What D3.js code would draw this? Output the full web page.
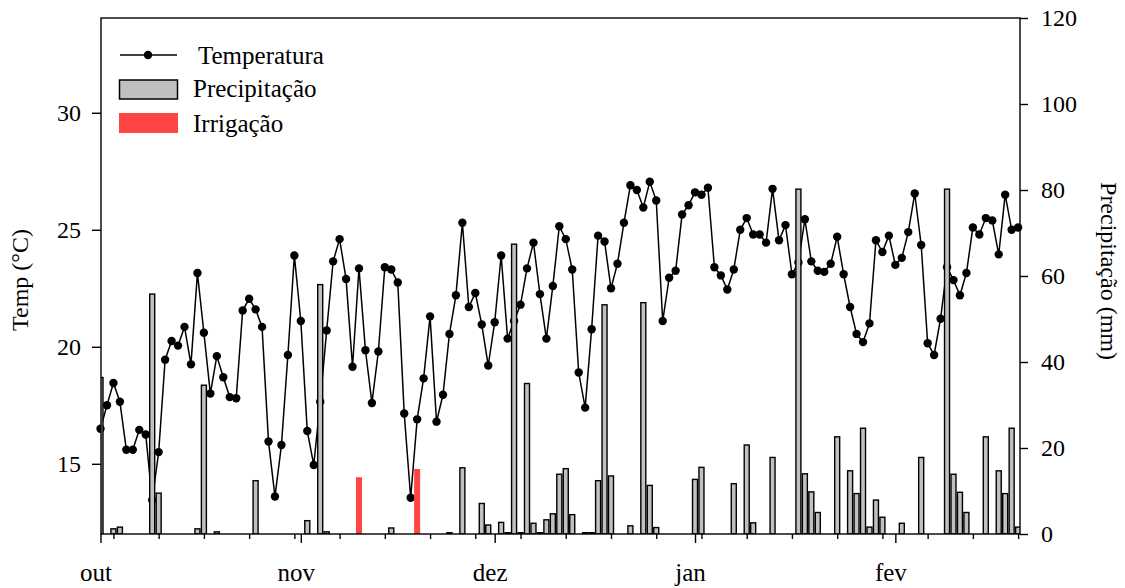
<!DOCTYPE html>
<html>
<head>
<meta charset="utf-8">
<script src="https://cdn.jsdelivr.net/npm/d3@7"></script>
<style>
  body { margin: 0; background: #fff; }
  text { font-family: "Liberation Serif", "Times New Roman", serif; fill: #000; }
</style>
</head>
<body>
<script>
// daily series, starting 1 Oct
var startDate = new Date(2018, 9, 1);

var temperatura = [
  16.5, 17.5, 18.45, 17.65, 15.6, 15.6, 16.45, 16.25, 13.45, 15.5,
  19.45, 20.25, 20.05, 20.85, 19.25, 23.15, 20.6, 18.0, 19.6, 18.7,
  17.85, 17.8, 21.55, 22.05, 21.6, 20.85, 15.95, 13.6, 15.8, 19.65,
  23.9, 21.1, 16.4, 14.95, 17.65, 20.7, 23.65, 24.6, 22.9, 19.15,
  23.35, 19.85, 17.6, 19.8, 23.4, 23.3, 22.75, 17.15, 13.55, 16.9,
  18.65, 21.3, 16.8, 17.95, 20.55, 22.2, 25.3, 21.7, 22.3, 20.95,
  19.2, 21.05, 23.9, 20.35, 21.1, 21.8, 23.35, 24.45, 22.25, 20.35,
  22.6, 25.15, 24.6, 23.3, 18.9, 17.4, 20.75, 24.75, 24.5, 22.5,
  23.55, 25.3, 26.9, 26.7, 25.95, 27.05, 26.25, 21.1, 22.95, 23.25,
  25.65, 26.05, 26.6, 26.5, 26.8, 23.4, 23.05, 22.45, 23.3, 25.0,
  25.5, 24.8, 24.8, 24.45, 26.75, 24.55, 25.2, 23.1, 23.6, 25.45,
  23.65, 23.25, 23.2, 23.55, 24.7, 23.1, 21.7, 20.55, 20.2, 21.0,
  24.55, 24.05, 24.75, 23.5, 23.8, 24.9, 26.55, 24.35, 20.15, 19.65,
  21.2, 23.4, 22.85, 22.2, 23.15, 25.1, 24.8, 25.5, 25.4, 23.95,
  26.5, 25.0, 25.1
];

var precipitacao = [
  36.4, 0, 1.2, 1.6, 0, 0, 0, 0, 55.8, 9.5,
  0, 0, 0, 0, 0, 1.2, 34.6, 0, 0.5, 0,
  0, 0, 0, 0, 12.4, 0, 0, 0, 0, 0,
  0, 0, 3.1, 0, 58, 0.5, 0, 0, 0, 0,
  0, 0, 0, 0, 0, 1.4, 0, 0, 0, 0,
  0, 0, 0, 0, 0.3, 0, 15.4, 0, 0, 7.1,
  2.1, 0, 2.7, 0.3, 67.4, 0.3, 35, 2.5, 0.3, 3.3,
  4.7, 13.9, 15.2, 4.5, 0, 0.3, 0.3, 12.4, 53.3, 13.5,
  0, 0, 1.9, 0, 53.8, 11.3, 1.5, 0, 0, 0,
  0, 0, 12.7, 15.5, 0, 0, 0, 0, 11.7, 0,
  20.7, 2.6, 0, 0, 17.8, 0, 0, 0, 80.2, 14,
  9.8, 5, 0, 0, 22.6, 0, 14.7, 9.4, 24.6, 1.6,
  7.9, 3.9, 0, 0, 2.5, 0, 0, 17.8, 0, 0,
  0, 80.2, 13.9, 9.7, 5, 0, 0, 22.6, 0, 14.7,
  9.4, 24.6, 1.6
];

var irrigDias = [40, 49];
var irrigMm = [13.2, 15.1];

var meses = ["out", "nov", "dez", "jan", "fev"];
var tempTicks = [15, 20, 25, 30];
var precTicks = [0, 20, 40, 60, 80, 100, 120];

var width = 1125, height = 588;
var pL = 101, pR = 1020, pT = 18, pB = 534;

var day = function (i) { return d3.timeDay.offset(startDate, i); };
var lastDay = day(temperatura.length - 1);

var x = d3.scaleTime()
    .domain([startDate, d3.timeHour.offset(lastDay, 7)])
    .range([100.5, pR]);
var yT = d3.scaleLinear().domain([12, 34.05]).range([pB, pT]);
var yP = d3.scaleLinear().domain([0, 120]).range([pB, pT]);

var svg = d3.select("body").append("svg")
    .attr("width", width)
    .attr("height", height);

svg.append("clipPath").attr("id", "plot")
  .append("rect")
    .attr("x", pL).attr("y", pT)
    .attr("width", pR - pL).attr("height", pB - pT);

// temperature line
var line = d3.line()
    .x(function (d, i) { return x(day(i)); })
    .y(function (d) { return yT(d); });

svg.append("path")
    .datum(temperatura)
    .attr("d", line)
    .attr("fill", "none")
    .attr("stroke", "#000")
    .attr("stroke-width", 1.5);

svg.append("g").selectAll("circle")
    .data(temperatura)
  .enter().append("circle")
    .attr("cx", function (d, i) { return x(day(i)); })
    .attr("cy", function (d) { return yT(d); })
    .attr("r", 4.2)
    .attr("fill", "#000");

// precipitation bars
var barW = 5;
var prec = precipitacao.map(function (v, i) { return { i: i, v: v }; })
    .filter(function (d) { return d.v > 0; });

svg.append("g").attr("clip-path", "url(#plot)")
  .selectAll("rect")
    .data(prec)
  .enter().append("rect")
    .attr("x", function (d) { return x(day(d.i)) - barW / 2; })
    .attr("y", function (d) { return yP(d.v); })
    .attr("width", barW)
    .attr("height", function (d) { return pB - yP(d.v); })
    .attr("fill", "#c0c0c0")
    .attr("stroke", "#000")
    .attr("stroke-width", 1.4);

// irrigation bars
svg.append("g").selectAll("rect")
    .data(irrigDias)
  .enter().append("rect")
    .attr("x", function (d) { return x(day(d)) - 3; })
    .attr("y", function (d, k) { return yP(irrigMm[k]); })
    .attr("width", 6)
    .attr("height", function (d, k) { return pB - yP(irrigMm[k]); })
    .attr("fill", "#ff4444");

// axes
var months = d3.timeMonth.range(startDate, lastDay);

svg.append("g")
    .attr("transform", "translate(0," + pB + ")")
    .call(d3.axisBottom(x).tickValues(d3.range(2, temperatura.length, 7).map(day))
        .tickSize(5).tickFormat(""))
    .call(function (g) { g.select(".domain").remove(); });

var xAxis = svg.append("g")
    .attr("transform", "translate(0," + pB + ")")
    .call(d3.axisBottom(x).tickValues(months)
        .tickSize(9).tickPadding(20)
        .tickFormat(function (d, i) { return meses[i]; }))
    .call(function (g) { g.select(".domain").remove(); });
xAxis.selectAll("text").attr("font-size", 25).attr("dx", -5);

var yAxisL = svg.append("g")
    .attr("transform", "translate(" + pL + ",0)")
    .call(d3.axisLeft(yT).tickValues(tempTicks).tickSize(9).tickPadding(11))
    .call(function (g) { g.select(".domain").remove(); });
yAxisL.selectAll("text").attr("font-size", 24);

var yAxisR = svg.append("g")
    .attr("transform", "translate(" + pR + ",0)")
    .call(d3.axisRight(yP).tickValues(precTicks).tickSize(8).tickPadding(13))
    .call(function (g) { g.select(".domain").remove(); });
yAxisR.selectAll("text").attr("font-size", 24);

svg.selectAll(".tick line").attr("stroke-width", 1.4);
svg.selectAll(".tick text").attr("font-family", "Liberation Serif, serif");

// frame
svg.append("rect")
    .attr("x", pL).attr("y", pT)
    .attr("width", pR - pL).attr("height", pB - pT)
    .attr("fill", "none")
    .attr("stroke", "#000")
    .attr("stroke-width", 1.4);

// axis titles
svg.append("text")
    .attr("transform", "translate(28,280) rotate(-90)")
    .attr("text-anchor", "middle")
    .attr("font-size", 24)
    .text("Temp (°C)");

svg.append("text")
    .attr("transform", "translate(1101,271) rotate(90)")
    .attr("text-anchor", "middle")
    .attr("font-size", 24)
    .text("Precipitação (mm)");

// legend
var lg = svg.append("g");
lg.append("line")
    .attr("x1", 120).attr("x2", 177).attr("y1", 55).attr("y2", 55)
    .attr("stroke", "#000").attr("stroke-width", 1.5);
lg.append("circle").attr("cx", 148).attr("cy", 55).attr("r", 4.2).attr("fill", "#000");
lg.append("text").attr("x", 198).attr("y", 64).attr("font-size", 25).text("Temperatura");

lg.append("rect")
    .attr("x", 119.5).attr("y", 80).attr("width", 58).attr("height", 19)
    .attr("fill", "#c0c0c0").attr("stroke", "#000").attr("stroke-width", 1.5);
lg.append("text").attr("x", 193).attr("y", 97).attr("font-size", 25).text("Precipitação");

lg.append("rect")
    .attr("x", 119).attr("y", 113).attr("width", 59).attr("height", 20)
    .attr("fill", "#ff4444");
lg.append("text").attr("x", 193).attr("y", 132).attr("font-size", 25).text("Irrigação");
</script>
</body>
</html>
